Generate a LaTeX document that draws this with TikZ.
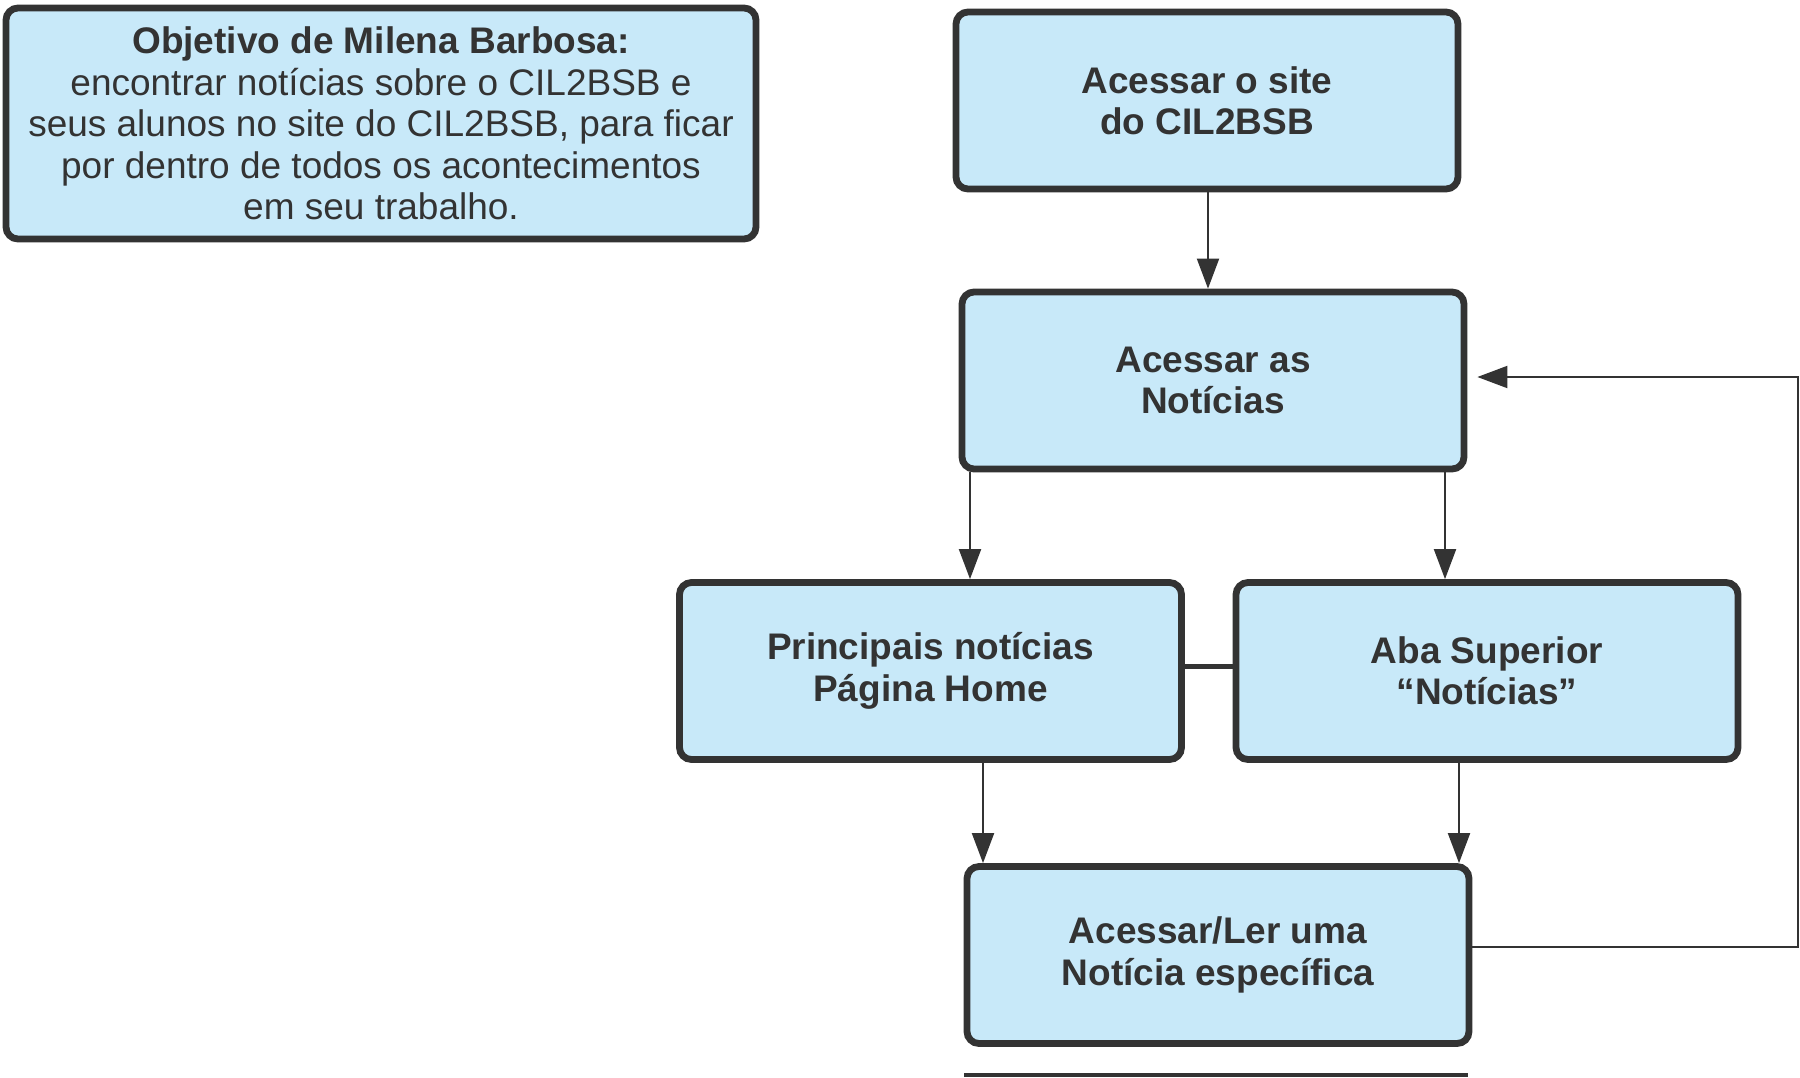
\documentclass[tikz,border=0pt]{standalone}
\usepackage{fontspec}
\setmainfont{Liberation Sans}
\usetikzlibrary{arrows.meta,calc}
\definecolor{boxfill}{HTML}{C8E9F9}
\definecolor{ink}{HTML}{333333}
\begin{document}
\begin{tikzpicture}[x=0.5pt,y=-0.5pt,
  stepbox/.style={draw=ink, line width=3.4pt, fill=boxfill, rounded corners=6pt,
    minimum width=251pt, minimum height=88.5pt, inner sep=0pt, align=center,
    text=ink, font=\fontsize{18.5}{20.7}\selectfont\bfseries},
  goalbox/.style={stepbox, minimum width=375pt, minimum height=115.5pt,
    font=\fontsize{18.5}{20.7}\selectfont},
  arr/.style={draw=ink, line width=1pt, -{Triangle[length=15pt,width=11pt]}},
  link/.style={draw=ink, line width=1pt}
]
\useasboundingbox (0,0) rectangle (1800,1077);
\node[goalbox] (goal) at (381,123.5) {\textbf{Objetivo de Milena Barbosa:}\\encontrar notícias sobre o CIL2BSB e\\seus alunos no site do CIL2BSB, para ficar\\por dentro de todos os acontecimentos\\em seu trabalho.};
\node[stepbox] (b1) at (1207,100.5) {Acessar o site\\do CIL2BSB};
\node[stepbox] (b2) at (1213,380.5) {Acessar as\\Notícias};
\node[stepbox] (b3) at (930.5,671) {Principais notícias\\Página Home};
\node[stepbox] (b4) at (1487,671) {Aba Superior\\“Notícias”};
\node[stepbox] (b5) at (1218,955) {Acessar/Ler uma\\Notícia específica};
\coordinate (r1) at (1798,947);
\coordinate (r2) at (1798,377);
\coordinate (l1) at (964,1075);
\coordinate (l2) at (1468,1075);
\draw[arr] (1208,0 |- b1.south) -- (1208,0 |- b2.north);
\draw[arr] (970,0 |- b2.south) -- (970,0 |- b3.north);
\draw[arr] (1445,0 |- b2.south) -- (1445,0 |- b4.north);
\draw[arr] (983,0 |- b3.south) -- (983,0 |- b5.north);
\draw[arr] (1459,0 |- b4.south) -- (1459,0 |- b5.north);
\draw[draw=ink, line width=2.5pt] (b3.east |- 0,666) -- (b4.west |- 0,666);
\draw[arr] (b5.east |- r1) -- (r1) -- (r2) -- ([xshift=5pt]b2.east |- r2);
\draw[draw=ink, line width=1.8pt] (l1) -- (l2);
\end{tikzpicture}
\end{document}
